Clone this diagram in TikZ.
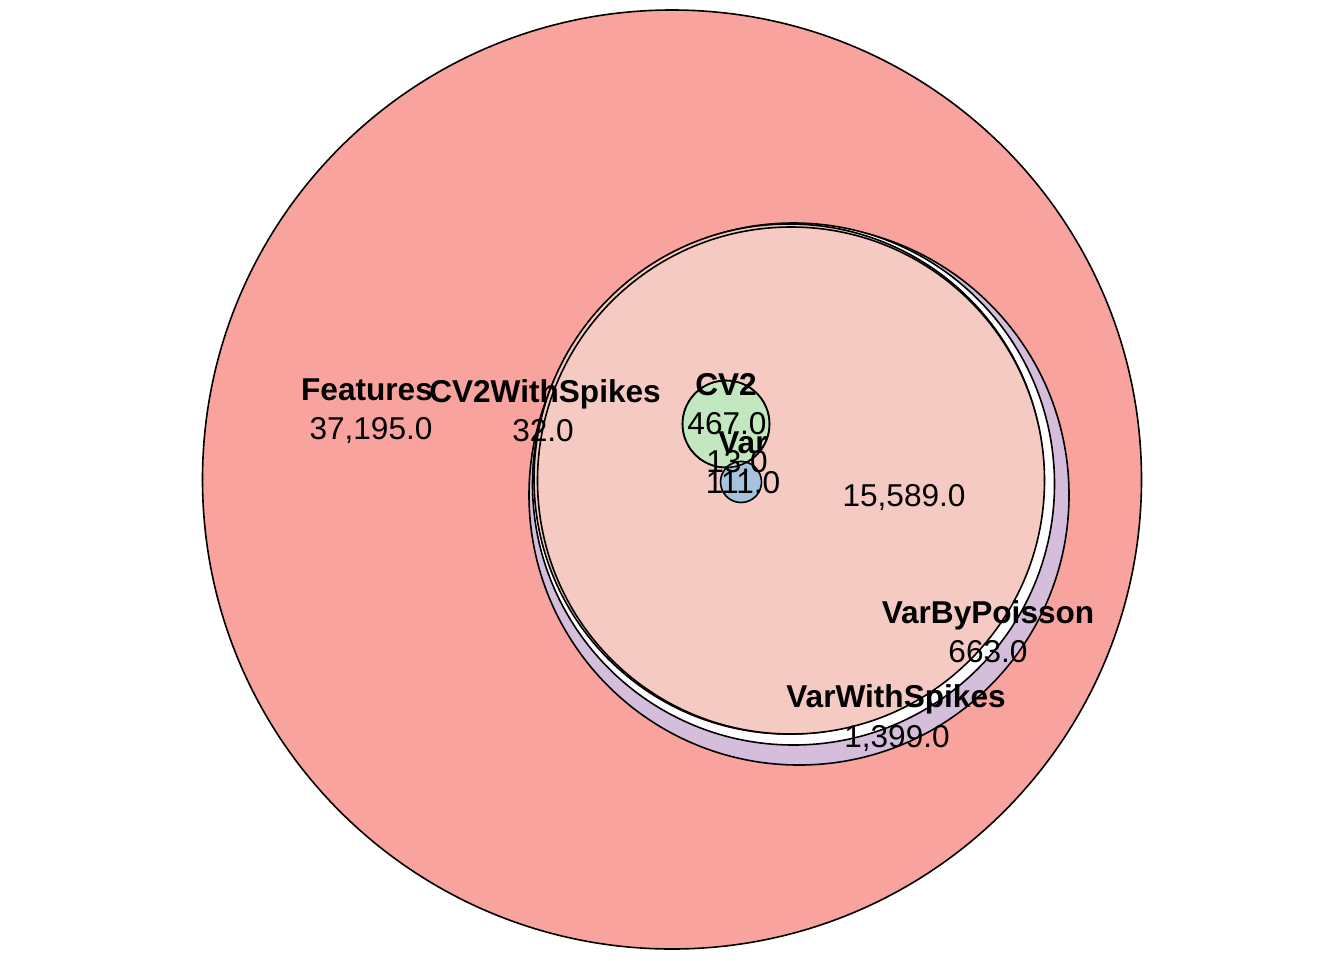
\documentclass[tikz,border=0pt]{standalone}
\usepackage{fontspec}
\setmainfont{Liberation Sans}
\usepackage{xcolor}
\usetikzlibrary{positioning}

\definecolor{featfill}{HTML}{F8A39E}
\definecolor{innerfill}{HTML}{F4CAC3}
\definecolor{spikefill}{HTML}{D5BEDC}
\definecolor{cvfill}{HTML}{C3E8BF}
\definecolor{varfill}{HTML}{A6C3DE}
\definecolor{lensfill}{HTML}{D9D2CA}

\begin{document}
\begin{tikzpicture}[
    x=0.5pt, y=-0.5pt,
    font=\fontsize{15.8}{18}\selectfont,
    setline/.style={draw=black, line width=0.8pt},
    setname/.style={font=\fontsize{15.8}{18}\selectfont\bfseries, inner sep=0pt},
    setcount/.style={inner sep=0pt}
  ]
  \useasboundingbox (0,0) rectangle (1344,960);

  % sets
  \filldraw[setline, fill=featfill] (672,479.5) circle (469.5);
  \filldraw[setline, fill=spikefill] (799,495) circle (270);
  \filldraw[setline, fill=white] (793.5,484) circle (261);
  \filldraw[setline, fill=innerfill] (789,479) circle (255);
  \filldraw[setline, fill=innerfill] (791,480.5) circle (253.5);
  \filldraw[setline, fill=cvfill] (726,424) circle (43.5);
  \filldraw[setline, fill=varfill] (741,482) circle (20.5);
  \begin{scope}
    \clip (726,424) circle (43.5);
    \filldraw[setline, fill=lensfill] (741,482) circle (20.5);
  \end{scope}
  \draw[setline] (726,424) circle (43.5);

  % labels
  \node[setname] (features) at (367,390) {Features};
  \node[setcount] (features-n) at (371,430) {37,195.0};
  \node[setname] (cv2spikes) at (545,394) {CV2WithSpikes};
  \node[setcount] (cv2spikes-n) at (543,431) {32.0};
  \node[setname] (cv2) at (726,385) {CV2};
  \node[setcount] (cv2-n) at (727,424) {467.0};
  \node[setname] (var) at (743,443) {Var};
  \node[setcount] (cv2var-n) at (737,462) {13.0};
  \node[setcount] (var-n) at (743,483) {111.0};
  \node[setcount] (inner-n) at (904,497) {15,589.0};
  \node[setname] (poisson) at (988,615) {VarByPoisson};
  \node[setcount] (poisson-n) at (988,652) {663.0};
  \node[setname] (varspikes) at (896,699) {VarWithSpikes};
  \node[setcount] (varspikes-n) at (897,738) {1,399.0};
\end{tikzpicture}
\end{document}
